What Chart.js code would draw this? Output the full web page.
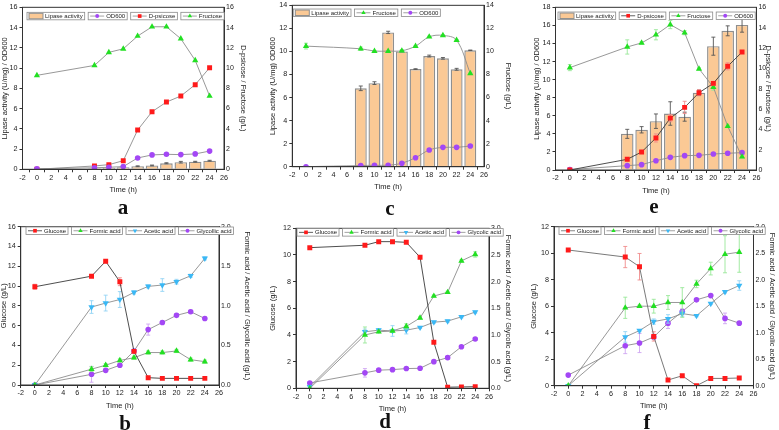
<!DOCTYPE html>
<html>
<head>
<meta charset="utf-8">
<script src="https://cdn.jsdelivr.net/npm/chart.js@4.4.0/dist/chart.umd.min.js"></script>
<style>
  body { margin: 0; background: #fff; width: 779px; height: 430px; position: relative; overflow: hidden; }
  canvas { position: absolute; }
  .tag { position: absolute; font: bold 21px "Liberation Serif", "Times New Roman", serif; transform: translate(-50%, -50%); color: #111; }
</style>
</head>
<body>
<canvas id="pa"></canvas>
<canvas id="pc"></canvas>
<canvas id="pe"></canvas>
<canvas id="pb"></canvas>
<canvas id="pd"></canvas>
<canvas id="pf"></canvas>
<div class="tag" style="left:123px;top:207px">a</div>
<div class="tag" style="left:390px;top:208px">c</div>
<div class="tag" style="left:654px;top:206px">e</div>
<div class="tag" style="left:125px;top:423px">b</div>
<div class="tag" style="left:385px;top:421px">d</div>
<div class="tag" style="left:647px;top:422px">f</div>
<script>
// sampling times (h)
const hours = [0, 8, 10, 12, 14, 16, 18, 20, 22, 24];
const barHours = [8, 10, 12, 14, 16, 18, 20, 22, 24];

// panel a
const aLipase = [0.1, 0.15, 0.2, 0.3, 0.38, 0.6, 0.7, 0.75, 0.85];
const aLipaseErr = [0.03, 0.03, 0.03, 0.04, 0.04, 0.05, 0.08, 0.04, 0.04];
const aOD600 = [0.05, 0.15, 0.2, 0.27, 1.12, 1.42, 1.48, 1.45, 1.52, 1.8];
const aPsicose = [0, 0.33, 0.46, 0.85, 3.88, 5.69, 6.64, 7.24, 8.36, 10.03];
const aFructose = [9.28, 10.26, 11.55, 11.9, 13.16, 14.08, 14.08, 12.9, 10.76, 7.24];

// panel c
const cLipase = [6.8, 7.25, 11.65, 10.0, 8.47, 9.6, 9.4, 8.45, 10.1];
const cLipaseErr = [0.2, 0.12, 0.1, 0.05, 0.03, 0.08, 0.07, 0.08, 0.02];
const cFructose = [10.46, 10.23, 10.03, 10.03, 10.06, 10.46, 11.27, 11.39, 10.98, 8.09];
const cFructoseErr = [0.25, 0.15, 0.05, 0.05, 0.1, 0.05, 0.05, 0.05, 0.05, 0.05];
const cOD600 = [0.0, 0.1, 0.12, 0.13, 0.3, 0.78, 1.45, 1.68, 1.68, 1.8];

// panel e
const eLipase = [4.0, 4.45, 5.4, 6.25, 5.9, 8.55, 13.7, 15.4, 16.05];
const eLipaseErr = [0.5, 0.35, 0.8, 1.3, 0.5, 0.3, 1.0, 0.55, 0.8];
const ePsicose = [0, 1.05, 1.77, 3.15, 5.1, 6.16, 7.6, 8.52, 10.2, 11.6];
const ePsicoseErr = [0, 0.1, 0.1, 0.4, 0.35, 0.6, 0.3, 0.2, 0.35, 0.1];
const eFructose = [10.07, 12.1, 12.5, 13.3, 14.3, 13.5, 9.95, 8.15, 4.3, 1.3];
const eFructoseErr = [0.3, 0.7, 0.1, 0.5, 0.4, 0.2, 0.1, 0.3, 0.1, 0.1];
const eOD600 = [0.05, 0.48, 0.59, 1.03, 1.4, 1.59, 1.62, 1.77, 1.85, 1.92];

// panel b
const bGlucose = [9.93, 11.0, 12.5, 10.44, 3.4, 0.74, 0.67, 0.67, 0.67, 0.67];
const bGlucoseErr = [0.25, 0.1, 0.1, 0.4, 0, 0.05, 0, 0, 0, 0];
const bFormic = [0, 0.2, 0.25, 0.31, 0.345, 0.41, 0.41, 0.43, 0.32, 0.295];
const bFormicErr = [0, 0.03, 0.02, 0.02, 0.02, 0.02, 0.02, 0.02, 0.02, 0.02];
const bAcetic = [0, 0.985, 1.035, 1.08, 1.17, 1.246, 1.263, 1.305, 1.38, 1.6];
const bAceticErr = [0, 0.08, 0.1, 0.1, 0.02, 0.02, 0.08, 0.03, 0.02, 0.02];
const bGlycolic = [0, 0.135, 0.185, 0.25, 0.43, 0.7, 0.79, 0.88, 0.926, 0.84];
const bGlycolicErr = [0, 0.1, 0.02, 0.02, 0.02, 0.07, 0.02, 0.02, 0.02, 0.02];

// panel d
const dGlucose = [10.55, 10.73, 11.0, 11.0, 10.95, 9.83, 3.45, 0.08, 0.1, 0.12];
const dFormic = [0.0, 1.0, 1.06, 1.075, 1.16, 1.32, 1.73, 1.8, 2.39, 2.51];
const dFormicErr = [0, 0.15, 0.02, 0.02, 0.05, 0.02, 0.02, 0.02, 0.02, 0.05];
const dAcetic = [0.03, 1.06, 1.09, 1.075, 1.09, 1.14, 1.24, 1.26, 1.34, 1.43];
const dAceticErr = [0, 0.05, 0.03, 0.1, 0.07, 0.02, 0.02, 0.02, 0.02, 0.02];
const dGlycolic = [0.1, 0.29, 0.34, 0.35, 0.37, 0.375, 0.5, 0.575, 0.78, 0.925];
const dGlycolicErr = [0, 0.08, 0.02, 0.02, 0.02, 0.02, 0.02, 0.02, 0.02, 0.02];

// panel f
const fGlucose = [10.24, 9.71, 8.98, 3.72, 0.43, 0.75, 0.0, 0.55, 0.55, 0.58];
const fGlucoseErr = [0, 0.8, 1.0, 0.35, 0, 0.05, 0, 0, 0, 0];
const fFormic = [0, 1.47, 1.5, 1.5, 1.57, 1.57, 1.92, 2.21, 2.48, 2.52];
const fFormicErr = [0, 0.2, 0.02, 0.13, 0.13, 0.28, 0.07, 0.12, 0.35, 0.38];
const fAcetic = [0, 0.92, 1.04, 1.21, 1.26, 1.36, 1.32, 1.55, 1.77, 1.89];
const fAceticErr = [0, 0.1, 0.02, 0.05, 0.08, 0.05, 0.02, 0.02, 0.02, 0.09];
const fGlycolic = [0.2, 0.755, 0.805, 0.92, 1.18, 1.4, 1.62, 1.7, 1.27, 1.18];
const fGlycolicErr = [0, 0.15, 0.18, 0.05, 0.1, 0.05, 0.02, 0.02, 0.1, 0.02];

const FONT = '"Liberation Sans", Arial, sans-serif';
const INK = '#222';
const GREY = '#8c8c8c';
const DARK = '#3a3a3a';

const RED = { style: 'rect', rot: 0, r: 3.5, color: '#ff1a1a', err: '#f08c8c' };
const GREEN = { style: 'triangle', rot: 0, r: 3.6, color: '#22e022', err: '#98e898' };
const CYAN = { style: 'triangle', rot: 180, r: 3.6, color: '#3ab8f5', err: '#93d4f5' };
const PURPLE = { style: 'circle', rot: 0, r: 2.8, color: '#a347f5', err: '#cfa6f2' };
const BAR = { style: 'bar', color: '#fbc995', border: '#8f8f8f' };

function series(label, xs, ys, errs, st, axis, lineColor) {
  return {
    type: 'line', label: label, yAxisID: axis,
    data: xs.map((x, i) => ({ x: x, y: ys[i] })),
    borderColor: lineColor || GREY, borderWidth: 0.9, backgroundColor: st.color,
    pointStyle: st.style, pointRotation: st.rot, pointRadius: st.r,
    pointBorderWidth: 0, pointBackgroundColor: st.color,
    errors: errs, errorColor: st.err, mark: st, order: 1
  };
}

function bars(label, xs, ys, errs) {
  return {
    type: 'bar', label: label, yAxisID: 'y',
    data: xs.map((x, i) => ({ x: x, y: ys[i] })),
    backgroundColor: BAR.color, borderColor: BAR.border, borderWidth: 1.4,
    barPercentage: 0.92, categoryPercentage: 0.95,
    errors: errs, errorColor: '#555', mark: BAR, order: 5
  };
}

function drawMark(ctx, st, x, y, r) {
  ctx.fillStyle = st.color;
  ctx.beginPath();
  if (st.style === 'rect') {
    ctx.rect(x - r * 0.75, y - r * 0.75, r * 1.5, r * 1.5);
  } else if (st.style === 'circle') {
    ctx.arc(x, y, r, 0, Math.PI * 2);
  } else {
    const s = st.rot === 180 ? -1 : 1;
    ctx.moveTo(x, y - s * r);
    ctx.lineTo(x + r * 0.87, y + s * r * 0.5);
    ctx.lineTo(x - r * 0.87, y + s * r * 0.5);
    ctx.closePath();
  }
  ctx.fill();
}

function errorLines(chart, i) {
  const ds = chart.data.datasets[i];
  if (!ds.errors) return;
  const meta = chart.getDatasetMeta(i);
  const xs = chart.scales[meta.xAxisID], ys = chart.scales[meta.yAxisID];
  const ctx = chart.ctx;
  ctx.save();
  ctx.strokeStyle = ds.errorColor;
  ctx.lineWidth = 0.9;
  ds.data.forEach((p, j) => {
    const e = ds.errors[j];
    if (!e) return;
    const x = xs.getPixelForValue(p.x);
    const y1 = ys.getPixelForValue(p.y - e), y2 = ys.getPixelForValue(p.y + e);
    ctx.beginPath();
    ctx.moveTo(x, y1); ctx.lineTo(x, y2);
    ctx.moveTo(x - 2, y1); ctx.lineTo(x + 2, y1);
    ctx.moveTo(x - 2, y2); ctx.lineTo(x + 2, y2);
    ctx.stroke();
  });
  ctx.restore();
}

const errorBars = {
  id: 'errorBars',
  beforeDatasetDraw(chart, args) {
    if (chart.data.datasets[args.index].type === 'line') errorLines(chart, args.index);
  },
  afterDatasetDraw(chart, args) {
    if (chart.data.datasets[args.index].type === 'bar') errorLines(chart, args.index);
  }
};

const frame = {
  id: 'frame',
  afterDraw(chart) {
    const a = chart.chartArea, ctx = chart.ctx;
    ctx.save();
    ctx.strokeStyle = '#333';
    ctx.lineWidth = 1;
    ctx.strokeRect(a.left, a.top, a.right - a.left, a.bottom - a.top);
    ctx.restore();
  }
};

const boxLegend = {
  id: 'boxLegend',
  afterDraw(chart, args, opts) {
    if (!opts.order) return;
    const ctx = chart.ctx, a = chart.chartArea;
    let x = a.left + opts.dx;
    const y = a.top + opts.dy, h = 7.5;
    ctx.save();
    ctx.font = '6px ' + FONT;
    ctx.textBaseline = 'middle';
    opts.order.forEach(i => {
      const ds = chart.data.datasets[i];
      const tw = ctx.measureText(ds.label).width;
      const w = 2 + 14 + 2 + tw + 2;
      ctx.fillStyle = '#fff';
      ctx.fillRect(x, y, w, h);
      ctx.strokeStyle = '#8a8a8a';
      ctx.lineWidth = 0.8;
      ctx.strokeRect(x, y, w, h);
      const my = y + h / 2;
      if (ds.mark.style === 'bar') {
        ctx.fillStyle = BAR.color;
        ctx.fillRect(x + 2, y + 1, 14, h - 2);
        ctx.strokeStyle = BAR.border;
        ctx.lineWidth = 1;
        ctx.strokeRect(x + 2, y + 1, 14, h - 2);
      } else {
        ctx.strokeStyle = ds.borderColor;
        ctx.lineWidth = 0.8;
        ctx.beginPath();
        ctx.moveTo(x + 2, my); ctx.lineTo(x + 16, my);
        ctx.stroke();
        drawMark(ctx, ds.mark, x + 9, my, ds.mark.r * 0.7);
      }
      ctx.fillStyle = INK;
      ctx.fillText(ds.label, x + 18, my + 0.3);
      x += w + 3.5;
    });
    ctx.restore();
  }
};

function panel(p) {
  const left = Math.floor(p.ltx - 6), right = Math.ceil(p.rtx + 6);
  const top = Math.floor(p.T - 6), bottom = Math.ceil(p.B + 30);
  const lw = p.L - left, rw = right - p.R, bh = bottom - p.B;
  const cv = document.getElementById(p.id);
  cv.width = right - left; cv.height = bottom - top;
  cv.style.left = left + 'px'; cv.style.top = top + 'px';
  cv.style.width = (right - left) + 'px'; cv.style.height = (bottom - top) + 'px';

  const tickFont = { family: FONT, size: 7.2 };
  const titleFont = { family: FONT, size: 7.5 };
  const grid = { display: true, drawOnChartArea: false, drawTicks: true, tickLength: 3, color: '#333' };
  const gridR = { display: true, drawOnChartArea: false, drawTicks: false, color: '#333' };

  new Chart(cv, {
    type: 'line',
    data: { datasets: p.datasets },
    options: {
      responsive: false, animation: false, events: [], devicePixelRatio: 1,
      layout: { padding: { top: p.T - top, left: 0, right: 0, bottom: 0 } },
      datasets: { line: { tension: p.tension || 0 } },
      plugins: {
        legend: { display: false }, tooltip: { enabled: false },
        boxLegend: { order: p.legend, dx: p.dx, dy: p.dy }
      },
      scales: {
        x: {
          type: 'linear', min: -2, max: 26, offset: false,
          ticks: { stepSize: 2, font: tickFont, color: INK, padding: 1, maxRotation: 0, autoSkip: false },
          grid: grid, border: { color: '#333' },
          title: { display: true, text: 'Time (h)', font: titleFont, color: INK, padding: { top: 0, bottom: bh - 25 } },
          afterFit: s => { s.height = bh; }
        },
        y: {
          position: 'left', min: 0, max: p.yMax,
          ticks: { stepSize: p.yStep, font: tickFont, color: INK, padding: 2 },
          grid: grid, border: { color: '#333' },
          title: { display: true, text: p.ltitle, font: titleFont, color: INK, padding: { top: p.ltx - left - 4.5, bottom: 0 } },
          afterFit: s => { s.width = lw; }
        },
        y1: {
          position: 'right', min: 0, max: p.y1Max,
          ticks: { stepSize: p.y1Step, font: { family: FONT, size: 7 }, color: INK, padding: 2,
                   callback: v => p.y1Fix ? v.toFixed(1) : v },
          grid: gridR, border: { color: '#333' },
          title: { display: true, text: p.rtitle, font: titleFont, color: INK, padding: { top: right - p.rtx - 4.5, bottom: 0 } },
          afterFit: s => { s.width = rw; }
        }
      }
    },
    plugins: [errorBars, frame, boxLegend]
  });
}

panel({
  id: 'pa', L: 22.5, T: 7.3, R: 224, B: 169.3, ltx: 5, rtx: 243,
  yMax: 16, yStep: 2, y1Max: 16, y1Step: 2,
  ltitle: 'Lipase activity (U/mg) / OD600', rtitle: 'D-psicose / Fructose (g/L)',
  datasets: [
    bars('Lipase activity', barHours, aLipase, aLipaseErr),
    series('OD600', hours, aOD600, null, PURPLE, 'y'),
    series('D-psicose', hours, aPsicose, null, RED, 'y1'),
    series('Fructose', hours, aFructose, null, GREEN, 'y1')
  ],
  legend: [0, 1, 2, 3], dx: 4.5, dy: 5
});

panel({
  id: 'pc', L: 292.3, T: 5.3, R: 484, B: 166.7, ltx: 273.3, rtx: 508.3,
  yMax: 14, yStep: 2, y1Max: 14, y1Step: 2, tension: 0.35,
  ltitle: 'Lipase activity (U/mg) OD600', rtitle: 'Fructose (g/L)',
  datasets: [
    bars('Lipase activity', barHours, cLipase, cLipaseErr),
    series('Fructose', hours, cFructose, cFructoseErr, GREEN, 'y1'),
    series('OD600', hours, cOD600, null, PURPLE, 'y')
  ],
  legend: [0, 1, 2], dx: 1, dy: 3.7
});

panel({
  id: 'pe', L: 555.5, T: 7.3, R: 756.4, B: 170, ltx: 537.3, rtx: 768.5,
  yMax: 18, yStep: 2, y1Max: 16, y1Step: 2,
  ltitle: 'Lipase activity (U/mg) / OD600', rtitle: 'D-psicose / Fructose (g/L)',
  datasets: [
    bars('Lipase activity', barHours, eLipase, eLipaseErr),
    series('D-psicose', hours, ePsicose, ePsicoseErr, RED, 'y1', DARK),
    series('Fructose', hours, eFructose, eFructoseErr, GREEN, 'y1'),
    series('OD600', hours, eOD600, null, PURPLE, 'y')
  ],
  legend: [0, 1, 2, 3], dx: 2.5, dy: 4.7
});

panel({
  id: 'pb', L: 20.7, T: 226.7, R: 219, B: 385, ltx: 4, rtx: 246.7,
  yMax: 16, yStep: 2, y1Max: 2, y1Step: 0.5, y1Fix: true,
  ltitle: 'Glucose (g/L)', rtitle: 'Formic acid / Acetic acid / Glycollic acid (g/L)',
  datasets: [
    series('Glucose', hours, bGlucose, bGlucoseErr, RED, 'y', DARK),
    series('Formic acid', hours, bFormic, bFormicErr, GREEN, 'y1'),
    series('Acetic acid', hours, bAcetic, bAceticErr, CYAN, 'y1'),
    series('Glycollic acid', hours, bGlycolic, bGlycolicErr, PURPLE, 'y1')
  ],
  legend: [0, 1, 2, 3], dx: 5.3, dy: 0.3
});

panel({
  id: 'pd', L: 296, T: 228.3, R: 489, B: 388.3, ltx: 273.3, rtx: 508.5,
  yMax: 12, yStep: 2, y1Max: 3, y1Step: 0.5, y1Fix: true,
  ltitle: 'Glucose (g/L)', rtitle: 'Formic acid / Acetic acid / Glycolic acid (g/L)',
  datasets: [
    series('Glucose', hours, dGlucose, null, RED, 'y', DARK),
    series('Formic acid', hours, dFormic, dFormicErr, GREEN, 'y1'),
    series('Acetic acid', hours, dAcetic, dAceticErr, CYAN, 'y1'),
    series('Glycolic acid', hours, dGlycolic, dGlycolicErr, PURPLE, 'y1')
  ],
  legend: [0, 1, 2, 3], dx: 1, dy: 0.3
});

panel({
  id: 'pf', L: 554, T: 226.7, R: 753.5, B: 385.7, ltx: 534, rtx: 772,
  yMax: 12, yStep: 2, y1Max: 3, y1Step: 0.5, y1Fix: true,
  ltitle: 'Glucose (g/L)', rtitle: 'Formic acid / Acetic acid / Glycolic acid (g/L)',
  datasets: [
    series('Glucose', hours, fGlucose, fGlucoseErr, RED, 'y', '#6a6a6a'),
    series('Formic acid', hours, fFormic, fFormicErr, GREEN, 'y1'),
    series('Acetic acid', hours, fAcetic, fAceticErr, CYAN, 'y1'),
    series('Glycolic acid', hours, fGlycolic, fGlycolicErr, PURPLE, 'y1')
  ],
  legend: [0, 1, 2, 3], dx: 5, dy: 0.3
});
</script>
</body>
</html>
